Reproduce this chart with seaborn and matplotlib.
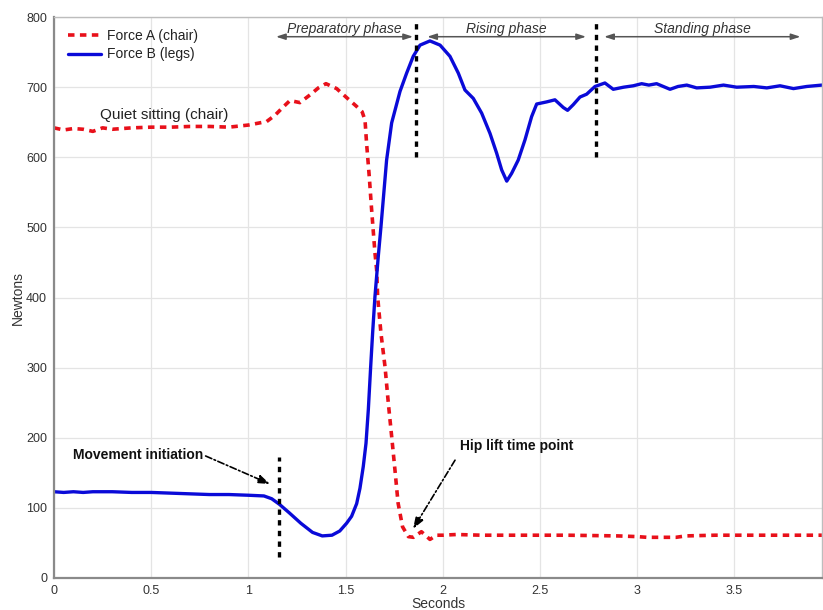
import matplotlib
matplotlib.use("Agg")
import matplotlib.pyplot as plt
import seaborn as sns
import pandas as pd

# Sit-to-stand ground reaction forces
t_chair = [0.00, 0.05, 0.10, 0.15, 0.20, 0.25, 0.30, 0.40, 0.50, 0.60, 0.70, 0.80,
           0.90, 1.00, 1.094, 1.137, 1.18, 1.214, 1.265, 1.317, 1.36, 1.399, 1.454,
           1.514, 1.555, 1.585, 1.60, 1.608, 1.622, 1.634, 1.651, 1.66, 1.665, 1.682,
           1.703, 1.72, 1.737, 1.754, 1.77, 1.793, 1.823, 1.849, 1.89, 1.934, 1.968,
           2.00, 2.07, 2.20, 2.40, 2.64, 2.90, 3.00, 3.05, 3.20, 3.25, 3.40, 3.60,
           3.80, 3.95]
force_chair = [642, 639, 641, 640, 637, 642, 640, 642, 643, 643, 644, 644,
               643, 646, 651, 660, 672, 681, 678, 689, 699, 705, 698,
               683, 673, 665, 653, 620, 572, 525, 464, 439, 401, 349,
               301, 249, 202, 154, 107, 73, 59, 58, 66, 55, 61,
               61, 62, 61, 61, 61, 60, 59, 58, 58, 60, 61, 61,
               61, 61]

t_legs = [0.00, 0.05, 0.10, 0.15, 0.20, 0.30, 0.40, 0.50, 0.60, 0.70, 0.80, 0.90,
          1.00, 1.08, 1.12, 1.16, 1.21, 1.27, 1.33, 1.38, 1.43, 1.47, 1.505, 1.531,
          1.557, 1.574, 1.591, 1.605, 1.617, 1.629, 1.639, 1.651, 1.668, 1.682,
          1.711, 1.737, 1.78, 1.814, 1.848, 1.883, 1.934, 1.986, 2.037, 2.08, 2.114,
          2.157, 2.20, 2.243, 2.277, 2.303, 2.329, 2.354, 2.388, 2.423, 2.457, 2.483,
          2.534, 2.577, 2.62, 2.642, 2.671, 2.706, 2.74, 2.783, 2.834, 2.877, 2.93,
          2.98, 3.023, 3.06, 3.10, 3.169, 3.21, 3.255, 3.306, 3.375, 3.444, 3.512,
          3.60, 3.667, 3.735, 3.804, 3.872, 3.95]
force_legs = [123, 122, 123, 122, 123, 123, 122, 122, 121, 120, 119, 119,
              118, 117, 113, 105, 93, 78, 65, 60, 61, 67, 78, 88,
              106, 128, 159, 192, 240, 301, 349, 401, 458, 501,
              596, 649, 694, 720, 744, 760, 766, 760, 744, 720, 696,
              684, 663, 634, 606, 582, 566, 577, 596, 625, 658, 676,
              679, 682, 671, 667, 675, 686, 690, 701, 706, 697, 700,
              702, 705, 703, 705, 697, 701, 703, 699, 700, 703, 700,
              701, 699, 702, 698, 701, 703]

series_labels = ["Force A (chair)", "Force B (legs)"]
y_ticks = [0, 100, 200, 300, 400, 500, 600, 700, 800]
x_ticks = [0, 0.5, 1, 1.5, 2, 2.5, 3, 3.5]
x_tick_labels = ["0", "0.5", "1", "1.5", "2", "2.5", "3", "3.5"]

# Event markers (seconds)
t_initiation = 1.16
t_hip_lift = 1.862
t_standing = 2.786

sns.set_style("whitegrid")
plt.rcParams["font.family"] = ["Liberation Sans", "DejaVu Sans"]

df_chair = pd.DataFrame({"t": t_chair, "force": force_chair})
df_legs = pd.DataFrame({"t": t_legs, "force": force_legs})

fig = plt.figure(figsize=(8.23, 6.10), dpi=100)
ax = fig.add_axes([0.0656, 0.0525, 0.933, 0.9195])

sns.lineplot(data=df_chair, x="t", y="force", ax=ax, color="#e8101a",
             linewidth=2.6, linestyle=(0, (1.8, 1.5)), label=series_labels[0],
             estimator=None, sort=False)
sns.lineplot(data=df_legs, x="t", y="force", ax=ax, color="#0a0ad8",
             linewidth=2.4, label=series_labels[1], estimator=None, sort=False)
for ln in ax.lines:
    ln.set_solid_joinstyle("round")
    ln.set_dash_joinstyle("round")

ax.set_xlim(0, 3.95)
ax.set_ylim(0, 800)
ax.set_xticks(x_ticks)
ax.set_xticklabels(x_tick_labels)
ax.set_yticks(y_ticks)
ax.grid(True, color="#e4e4e4", linewidth=0.9)
ax.tick_params(axis="both", direction="in", length=4, width=1, color="#888888",
               labelsize=9, labelcolor="#333333", pad=5)
for side in ["left", "bottom"]:
    ax.spines[side].set_color("#8a8a8a")
    ax.spines[side].set_linewidth(1.6)
for side in ["top", "right"]:
    ax.spines[side].set_color("#bdbdbd")
    ax.spines[side].set_linewidth(1.0)

ax.set_xlabel("Seconds", fontsize=10, color="#333333", labelpad=0)
ax.set_ylabel("Newtons", fontsize=10, color="#333333", labelpad=0.5)

# Phase boundaries
vkw = dict(color="black", linewidth=2.4, linestyle=(0, (1.6, 1.6)))
ax.plot([t_initiation, t_initiation], [30, 172], **vkw)
ax.plot([t_hip_lift, t_hip_lift], [601, 796], **vkw)
ax.plot([t_standing, t_standing], [601, 796], **vkw)

# Phase spans
phases = [("Preparatory phase", 1.142, 1.847),
          ("Rising phase", 1.92, 2.737),
          ("Standing phase", 2.83, 3.84)]
for name, a, b in phases:
    ax.annotate("", xy=(b, 772), xytext=(a, 772),
                arrowprops=dict(arrowstyle="<|-|>,head_length=0.55,head_width=0.18",
                                color="#555555", lw=1.1, shrinkA=0, shrinkB=0))
    ax.text((a + b) / 2, 773, name, ha="center", va="bottom", fontsize=10,
            style="italic", color="#333333")

ax.text(0.237, 660, "Quiet sitting (chair)", fontsize=11, color="#222222",
        ha="left", va="center")

# Event callouts with dash-dot pointers
akw = dict(arrowstyle="-|>,head_length=0.7,head_width=0.25", color="black",
           lw=1.2, linestyle=(0, (4, 1.5, 1, 1.5)), shrinkA=0, shrinkB=0)
ax.text(0.766, 175, "Movement initiation", fontsize=10, fontweight="bold",
        color="#111111", ha="right", va="center")
ax.annotate("", xy=(1.111, 134), xytext=(0.78, 174), arrowprops=akw)
ax.text(2.088, 188, "Hip lift time point", fontsize=10, fontweight="bold",
        color="#111111", ha="left", va="center")
ax.annotate("", xy=(1.847, 70), xytext=(2.063, 168), arrowprops=akw)

leg = ax.legend(loc="upper left", bbox_to_anchor=(0.0, 1.003), frameon=False,
                fontsize=10, handlelength=2.4, handletextpad=0.4,
                borderaxespad=0.6, labelspacing=0.3)
for txt in leg.get_texts():
    txt.set_color("#222222")

fig.savefig("out.png", dpi=100)
